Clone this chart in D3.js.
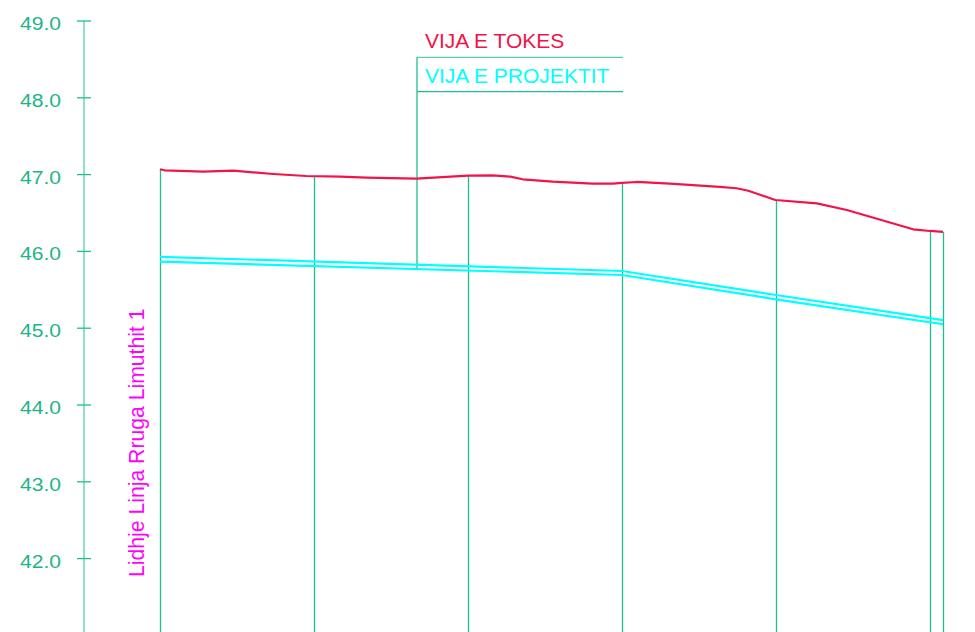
<!DOCTYPE html>
<html>
<head>
<meta charset="utf-8">
<script src="https://cdn.jsdelivr.net/npm/d3@7"></script>
<style>
  html, body { margin: 0; padding: 0; background: #ffffff; }
  svg { display: block; }
  text { font-family: "Liberation Sans", Arial, sans-serif; }
</style>
</head>
<body>
<svg id="chart" width="975" height="632"></svg>
<script>
// ---- data ----
const yTicks = [42, 43, 44, 45, 46, 47, 48, 49];
const stations = [0, 20, 40, 60, 80, 100, 101.7];

// ground line (VIJA E TOKES)
const groundX = [0, 0.6, 5.6, 9.5, 14.7, 19.0, 23.4, 26.8, 33.3, 40.0, 43.2, 45.5, 47.1, 51.0, 56.2, 58.8, 60.0, 61.9, 66.2, 72.7, 74.9, 76.4, 79.9, 85.3, 89.2, 97.8, 100, 101.7];
const groundZ = [47.07, 47.056, 47.038, 47.051, 47.008, 46.982, 46.973, 46.96, 46.947, 46.986, 46.991, 46.973, 46.939, 46.908, 46.882, 46.882, 46.891, 46.904, 46.882, 46.839, 46.822, 46.79, 46.669, 46.626, 46.539, 46.288, 46.266, 46.253];

// design lines (VIJA E PROJEKTIT), two parallel edges
const designX = [0, 60, 80, 101.7];
const designUpperZ = [45.93, 45.745, 45.432, 45.105];
const designLowerZ = [45.866, 45.693, 45.376, 45.051];

const legendLabels = ["VIJA E TOKES", "VIJA E PROJEKTIT"];
const sideLabel = "Lidhje Linja Rruga Limuthit 1";

// ---- drawing ----
const svg = d3.select("#chart");
const W = 975, H = 632;

const x = d3.scaleLinear().domain([0, 20]).range([160, 314]);
const y = d3.scaleLinear().domain([42, 49]).range([558.6, 21]);

const teal = "#1fbf8f";
const tealLight = "#4fd2a8";
const red = "#f01448";
const cyan = "#00ffff";
const magenta = "#ff00ff";
const tickText = "#1cb587";

function interp(xs, zs, s) {
  for (let i = 0; i < xs.length - 1; i++) {
    if (s >= xs[i] && s <= xs[i + 1]) {
      const t = (s - xs[i]) / (xs[i + 1] - xs[i]);
      return zs[i] + t * (zs[i + 1] - zs[i]);
    }
  }
  return zs[zs.length - 1];
}

// y axis line
const axisX = 84;
svg.append("line")
  .attr("x1", axisX).attr("x2", axisX)
  .attr("y1", y(49)).attr("y2", H)
  .attr("stroke", tealLight).attr("stroke-width", 1.3);

// axis labels via d3.axisLeft
const axis = d3.axisLeft(y).tickValues(yTicks).tickFormat(d3.format(".1f"))
  .tickSize(0).tickPadding(23);
const ag = svg.append("g").attr("transform", `translate(${axisX},0)`).call(axis);
ag.select(".domain").remove();
ag.selectAll("text")
  .attr("fill", tickText)
  .attr("font-size", 17.5)
  .attr("font-family", "'Liberation Sans', Arial, sans-serif")
  .attr("dy", "0.48em")
  .attr("textLength", 41)
  .attr("lengthAdjust", "spacingAndGlyphs");
// ticks crossing the axis line
svg.append("g").selectAll("line").data(yTicks).join("line")
  .attr("x1", axisX - 7).attr("x2", axisX + 7)
  .attr("y1", d => y(d)).attr("y2", d => y(d))
  .attr("stroke", teal).attr("stroke-width", 1.3);

// station lines
svg.append("g").selectAll("line").data(stations).join("line")
  .attr("x1", d => Math.round(x(d)) + 0.5).attr("x2", d => Math.round(x(d)) + 0.5)
  .attr("y1", d => y(interp(groundX, groundZ, d)))
  .attr("y2", H)
  .attr("stroke", teal).attr("stroke-width", 1.3);

// legend box
const legX1 = 417, legX2 = 623;
svg.append("line").attr("x1", legX1).attr("x2", legX2).attr("y1", 57.3).attr("y2", 57.3)
  .attr("stroke", tealLight).attr("stroke-width", 1.3);
svg.append("line").attr("x1", legX1).attr("x2", legX2).attr("y1", 91.7).attr("y2", 91.7)
  .attr("stroke", teal).attr("stroke-width", 1.3);
const legS = x.invert(legX1);
svg.append("line").attr("x1", legX1).attr("x2", legX1)
  .attr("y1", 57.3).attr("y2", y(interp(designX, designLowerZ, legS)))
  .attr("stroke", teal).attr("stroke-width", 1.3);

svg.append("text").attr("x", 425).attr("y", 47.5)
  .attr("fill", red).attr("font-size", 21).text(legendLabels[0]);
svg.append("text").attr("x", 425).attr("y", 83.3)
  .attr("fill", cyan).attr("font-size", 21).text(legendLabels[1]);

// design lines
const line = d3.line().x(d => x(d[0])).y(d => y(d[1]));
[designUpperZ, designLowerZ].forEach(zs => {
  svg.append("path")
    .datum(designX.map((s, i) => [s, zs[i]]))
    .attr("d", line)
    .attr("fill", "none")
    .attr("stroke", cyan)
    .attr("stroke-width", 2.2);
});

// ground line
svg.append("path")
  .datum(groundX.map((s, i) => [s, groundZ[i]]))
  .attr("d", line)
  .attr("fill", "none")
  .attr("stroke", red)
  .attr("stroke-width", 2.2)
  .attr("stroke-linejoin", "round");

// side label
svg.append("text")
  .attr("transform", "translate(144,577) rotate(-90)")
  .attr("fill", magenta)
  .attr("font-size", 21.2)
  .text(sideLabel);
</script>
</body>
</html>
